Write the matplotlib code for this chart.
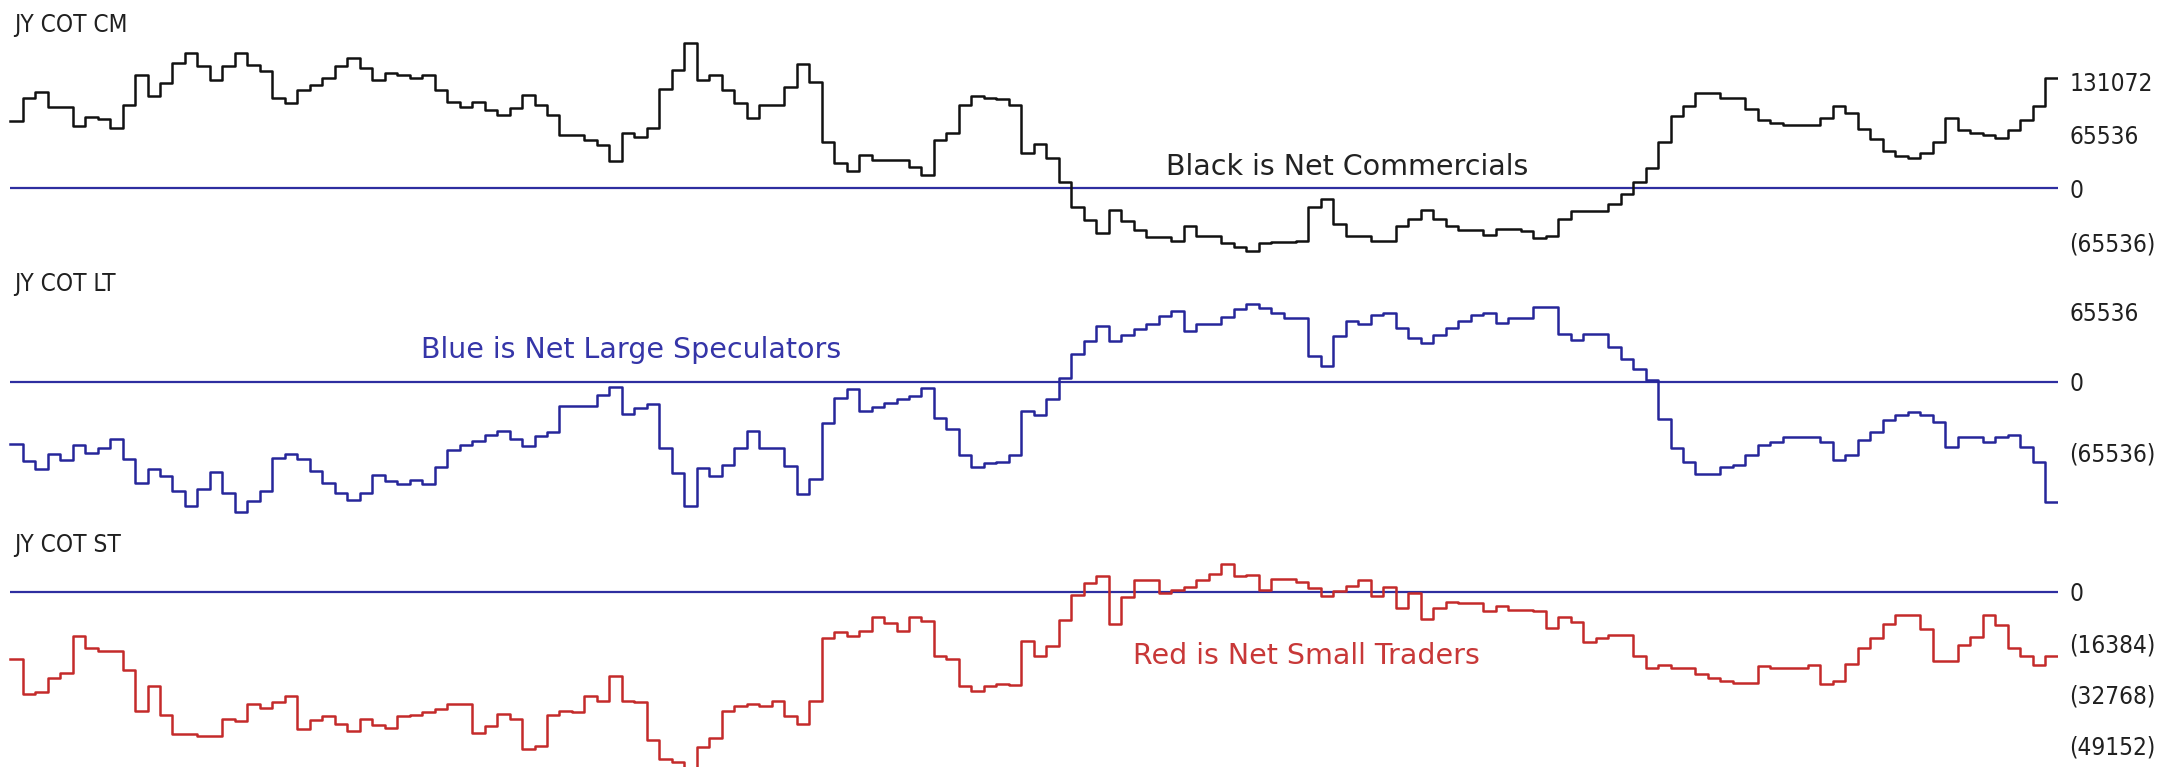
import numpy as np
import matplotlib
matplotlib.use("Agg")
import matplotlib.pyplot as plt

# weekly net positions (contracts)
net_commercials = [
    83100, 111400, 118000, 99600, 99600, 76600, 87300, 84800, 74500, 102400,
    139300, 113900, 129800, 154400, 166700, 150700, 133200, 150700, 166700, 151600,
    144600, 111400, 104500, 120900, 127000, 135200, 150700, 160600, 147500, 133200,
    142100, 139300, 135200, 139300, 120900, 106500, 99600, 106500, 96300, 90100,
    98400, 114700, 102400, 90100, 65500, 65500, 59400, 53200, 33900, 68400,
    62700, 74500, 121700, 145500, 179000, 133200, 139300, 120900, 104500, 86800,
    102400, 102400, 124200, 152500, 131100, 56600, 31500, 21600, 40900, 34800,
    34800, 34800, 25800, 16400, 59400, 68400, 102400, 113900, 111400, 109400,
    102400, 43000, 54100, 36900, 7400, -23400, -39000, -55300, -26700, -40200,
    -51300, -59900, -59900, -64800, -46400, -58600, -58600, -67300, -72200, -77100,
    -67300, -66000, -66000, -64800, -22400, -13200, -43500, -58600, -58600, -64800,
    -64800, -46400, -37500, -27200, -37500, -46400, -51300, -51300, -57400, -49500,
    -49500, -52500, -61600, -58600, -37500, -28400, -28400, -28400, -19300, -7300,
    7700, 25000, 57400, 88300, 101600, 116700, 116700, 110700, 110700, 97500,
    83400, 80300, 77300, 77300, 77300, 86400, 101600, 92600, 73200, 61100,
    45400, 39300, 36900, 42900, 57400, 86400, 71300, 68400, 65300, 62200,
    71300, 83400, 101600, 136000,
]

net_large_specs = [
    -58400, -74800, -81800, -67800, -73100, -59400, -66700, -61700, -53700, -72500,
    -95400, -81800, -88400, -102400, -116700, -100100, -84400, -104200, -121800, -111800,
    -102400, -71800, -67800, -72500, -83900, -94700, -104200, -111200, -104200, -87200,
    -92700, -95900, -91700, -95900, -79500, -64200, -59800, -55900, -49700, -46600,
    -53900, -60500, -51300, -47000, -22800, -22800, -22800, -13000, -4800, -30000,
    -24500, -21000, -62200, -86000, -116200, -81300, -88400, -78100, -62500, -46500,
    -62500, -62500, -79000, -104800, -91500, -39000, -15400, -6500, -27100, -23800,
    -20000, -16500, -13300, -6400, -34100, -44100, -68500, -80000, -76200, -75300,
    -68500, -27500, -31600, -16500, 3800, 26300, 38000, 52100, 38000, 43600,
    49500, 54300, 61400, 66300, 47400, 54300, 54300, 60700, 68000, 72800,
    68900, 64200, 59400, 59400, 24000, 14900, 42700, 57000, 53900, 61900,
    63800, 50300, 40600, 36100, 43900, 50300, 56700, 62400, 63800, 54800,
    59100, 59100, 69600, 69600, 44300, 38800, 44300, 44300, 32800, 21200,
    12100, 1500, -34900, -62500, -75300, -86900, -86900, -80000, -77700, -68500,
    -59400, -56100, -51500, -51500, -51500, -57000, -73100, -68500, -54700, -46900,
    -36300, -31600, -28500, -31600, -37600, -61600, -51500, -51500, -56100, -51500,
    -50000, -61600, -75300, -112300,
]

net_small_traders = [
    -21600, -32900, -32100, -27700, -26000, -14300, -18200, -19100, -19100, -25300,
    -38300, -30200, -39700, -45700, -45700, -46500, -46500, -40800, -41600, -36200,
    -37500, -35400, -33500, -44100, -41400, -40100, -42400, -44800, -41000, -42900,
    -44000, -39900, -39800, -38800, -37600, -36200, -36200, -45600, -43100, -39400,
    -40900, -50500, -49700, -39800, -38300, -38700, -33500, -35100, -27200, -35100,
    -35400, -47800, -53800, -54800, -58000, -50100, -47200, -38400, -36700, -36200,
    -36900, -35200, -40100, -42400, -35200, -14900, -12900, -14200, -12500, -8000,
    -10200, -12600, -8000, -9300, -20600, -21500, -30400, -32000, -30200, -29800,
    -30000, -15800, -20700, -17400, -9100, -1000, 2800, 5100, -10400, -1800,
    3800, 3800, -400, 600, 1500, 3800, 5700, 8900, 5100, 5400,
    600, 4100, 4100, 3200, 1200, -1400, 300, 1900, 3800, -1400,
    1500, -5200, -400, -8800, -5200, -3300, -3600, -3600, -6200, -4600,
    -5900, -5900, -6200, -11700, -8100, -9700, -16000, -14900, -14000, -14000,
    -20800, -24400, -23500, -24400, -24400, -26600, -27600, -28700, -29200, -29200,
    -23900, -24400, -24400, -24400, -23500, -29800, -28700, -23100, -18100, -14900,
    -10500, -7600, -7600, -12100, -22400, -22400, -17100, -14500, -7600, -10800,
    -18100, -20800, -23500, -20800,
]

panel_titles = ["JY COT CM", "JY COT LT", "JY COT ST"]
cm_ticks = [131072, 65536, 0, -65536]
lt_ticks = [65536, 0, -65536]
st_ticks = [0, -16384, -32768, -49152]

notes = ["Black is Net Commercials", "Blue is Net Large Speculators", "Red is Net Small Traders"]

W, H = 2165, 767
fig = plt.figure(figsize=(W / 100, H / 100), dpi=100)
fig.patch.set_facecolor("white")

ZERO_COL = "#2e2ea0"
LABEL_FONT = dict(family="DejaVu Sans", stretch="condensed")
n = len(net_commercials)


def fmt(v):
    return str(v) if v >= 0 else "(%d)" % (-v)


def make_panel(vals, color, zero_px, px_per_unit, unit, ticks):
    ax = fig.add_axes([0, 0, 2058 / W, 1])
    ax.patch.set_alpha(0)
    k = unit / px_per_unit
    ax.set_ylim((zero_px - H) * k, zero_px * k)
    ax.set_xlim(-0.817, 164.04)
    for s in ax.spines.values():
        s.set_visible(False)
    ax.set_xticks([])
    ax.yaxis.tick_right()
    ax.set_yticks(ticks)
    ax.set_yticklabels([fmt(t) for t in ticks], fontstretch="condensed")
    ax.tick_params(axis="y", length=0, pad=8, labelsize=17.5, labelcolor="#202020")
    ax.hlines(0, 0, n, color=ZERO_COL, lw=1.6, zorder=1)
    x = np.arange(n + 1)
    y = np.append(vals, vals[-1])
    ax.step(x, y, where="post", color=color, lw=1.8, zorder=2)
    return ax


make_panel(net_commercials, "#111111", 188.3, 53.3, 65536, cm_ticks)
make_panel(net_large_specs, "#26269a", 381.6, 70.0, 65536, lt_ticks)
make_panel(net_small_traders, "#c42a2a", 591.8, 50.9, 16384, st_ticks)

# panel names
for t, ypx in zip(panel_titles, [25, 284, 545]):
    fig.text(14 / W, 1 - ypx / H, t, fontsize=17.5, color="#202020", va="center", ha="left",
             **LABEL_FONT)

# colour notes
fig.text(1347 / W, 1 - 167 / H, notes[0], fontsize=20.5, color="#222222", ha="center", va="center")
fig.text(631 / W, 1 - 350 / H, notes[1], fontsize=20.5, color="#3535a8", ha="center", va="center")
fig.text(1306 / W, 1 - 656 / H, notes[2], fontsize=20.5, color="#c83838", ha="center", va="center")

fig.savefig("out.png", dpi=100)
